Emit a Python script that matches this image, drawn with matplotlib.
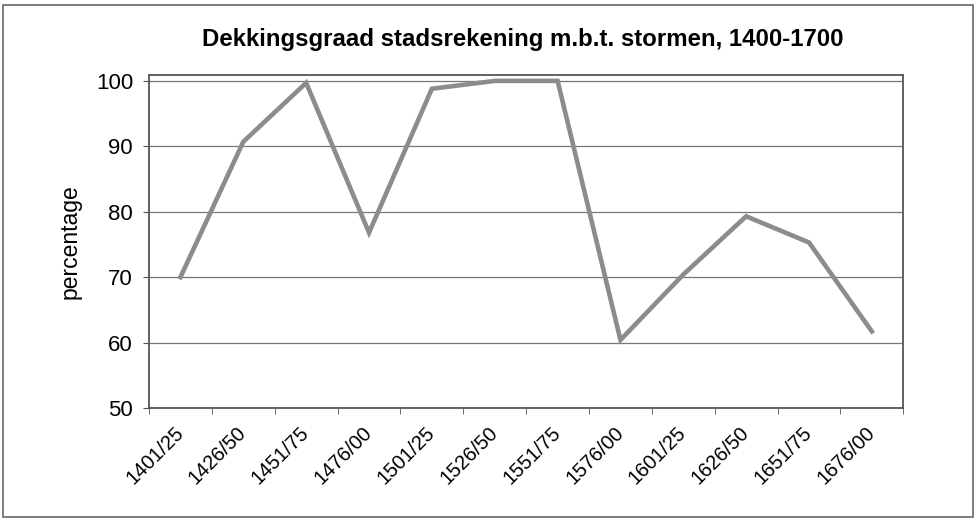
import matplotlib.pyplot as plt
from matplotlib.patches import Rectangle
from matplotlib.transforms import ScaledTranslation

periods = ["1401/25", "1426/50", "1451/75", "1476/00", "1501/25", "1526/50",
           "1551/75", "1576/00", "1601/25", "1626/50", "1651/75", "1676/00"]
coverage = [70.0, 90.7, 99.7, 76.8, 98.8, 100.0, 100.0, 60.4, 70.4, 79.3, 75.3, 61.7]
yticks = [50, 60, 70, 80, 90, 100]

plt.rcParams['font.family'] = ['Liberation Sans', 'DejaVu Sans']

fig = plt.figure(figsize=(9.76, 5.19), dpi=100)
ax = fig.add_axes([0.1527, 0.2139, 0.7728, 0.6416])

# outer frame round the whole chart
fig.patches.append(Rectangle((0.003, 0.004), 0.994, 0.986, transform=fig.transFigure,
                             fill=False, edgecolor="#666666", linewidth=1.2))

x = list(range(len(periods)))
ax.plot(x, coverage, color="#8c8c8c", linewidth=3.3, solid_joinstyle="miter", zorder=3)

ax.set_xlim(-0.5, len(periods) - 0.5)
ax.set_ylim(50, 100.9)
ax.set_yticks(yticks)
ax.set_yticklabels([str(v) for v in yticks], fontsize=16)
ax.yaxis.grid(True, color="#777777", linewidth=0.9)
ax.set_axisbelow(True)

# category axis: ticks at the boundaries, labels in the middle
ax.set_xticks(x)
ax.set_xticklabels(periods, rotation=45, ha="right", va="center",
                   rotation_mode="anchor", fontsize=14.5)
shift = ScaledTranslation(4 / 100, 0, fig.dpi_scale_trans)
for lab in ax.get_xticklabels():
    lab.set_transform(lab.get_transform() + shift)
ax.set_xticks([i - 0.5 for i in range(len(periods) + 1)], minor=True)
ax.tick_params(axis="x", which="major", length=0, pad=16)
ax.tick_params(axis="x", which="minor", length=4.5, color="#555555", direction="out")
ax.tick_params(axis="y", length=4.5, color="#555555", direction="out", pad=7)

for side in ["left", "right", "top", "bottom"]:
    ax.spines[side].set_color("#555555")
    ax.spines[side].set_linewidth(1.3)

ax.set_ylabel("percentage", fontsize=16.5, labelpad=10)
fig.text(0.536, 0.923, "Dekkingsgraad stadsrekening m.b.t. stormen, 1400-1700",
         ha="center", va="center", fontsize=17.3, fontweight="bold")

fig.savefig("out.png", dpi=100)
